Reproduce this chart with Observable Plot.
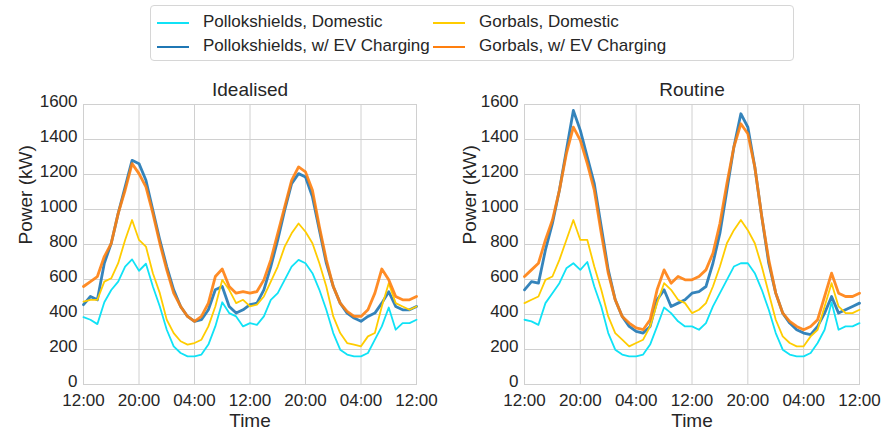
<!DOCTYPE html>
<html><head><meta charset="utf-8">
<script src="https://cdn.jsdelivr.net/npm/d3@7"></script>
<script src="https://cdn.jsdelivr.net/npm/@observablehq/plot@0.6"></script>
<style>
body{margin:0;background:#fff;font-family:"Liberation Sans",Arial,sans-serif;}
#wrap{position:relative;width:888px;height:432px;overflow:hidden;}
#legend{position:absolute;left:150px;top:5px;width:644px;height:56px;border:1px solid #d6d6d6;border-radius:4px;box-sizing:border-box;}
.li{position:absolute;font-size:17px;color:#262626;white-space:nowrap;line-height:20px;}
.sw{position:absolute;left:0;top:10px;width:32px;height:2px;}
.lt{position:absolute;left:46px;top:0;}
.panel{position:absolute;top:70px;}
</style></head><body>
<div id="wrap">
<div id="legend"></div>
<div id="left" class="panel" style="left:0"></div>
<div id="right" class="panel" style="left:444px"></div>
</div>
<script>
const hours = d3.range(0, 49);
const xTicks = [0, 8, 16, 24, 32, 40, 48];
const xTickLabels = ["12:00", "20:00", "04:00", "12:00", "20:00", "04:00", "12:00"];
const yTicks = [0, 200, 400, 600, 800, 1000, 1200, 1400, 1600];
const seriesNames = ["Pollokshields, Domestic", "Pollokshields, w/ EV Charging", "Gorbals, Domestic", "Gorbals, w/ EV Charging"];
const seriesColors = ["#10e2f6", "#1f77b4", "#ffcc00", "#ff7f0e"];
const panelTitles = ["Idealised", "Routine"];

// Idealised
const idealPolDom = [385,370,345,470,540,588,674,715,650,690,560,446,313,218,180,161,161,171,228,332,470,408,389,332,351,341,389,484,522,598,674,712,693,636,541,427,294,199,171,161,161,180,256,332,440,313,351,351,370];
const idealPolEV  = [456,503,484,693,807,978,1129,1281,1262,1167,996,826,674,541,446,389,361,370,427,541,560,446,408,427,456,465,541,674,826,996,1148,1205,1186,1072,882,693,560,465,408,380,361,389,408,465,530,446,427,427,446];
const idealGorDom = [474,484,484,588,607,693,826,940,826,788,636,522,370,294,247,228,237,256,332,446,598,541,465,484,446,456,503,588,674,788,864,920,873,807,693,560,389,294,237,228,218,275,294,446,579,465,446,427,446];
const idealGorEV  = [560,588,617,731,807,978,1110,1262,1205,1129,978,807,655,522,446,389,361,389,465,617,660,560,522,531,522,531,598,712,864,1015,1167,1243,1215,1110,901,712,560,465,418,389,389,427,522,660,598,503,484,484,503];
// Routine
const routPolDom = [370,361,341,465,522,579,664,693,655,700,560,446,294,199,171,161,161,171,228,332,440,408,361,332,332,313,351,446,522,598,674,693,693,636,541,427,294,199,171,161,161,180,237,313,470,313,332,332,351];
const routPolEV  = [541,588,579,769,920,1110,1338,1566,1452,1300,1148,901,655,484,389,332,304,294,332,484,541,446,465,484,522,531,560,693,864,1110,1357,1547,1471,1243,958,693,522,408,351,313,294,285,332,408,503,408,427,446,465];
const routGorDom = [465,484,503,598,617,712,826,940,826,826,674,541,389,294,256,218,237,256,332,465,579,541,484,465,408,427,465,560,674,807,882,940,882,807,674,522,370,275,237,218,218,275,313,446,579,446,408,408,427];
const routGorEV  = [617,655,693,826,940,1110,1319,1471,1395,1262,1110,864,636,484,389,351,323,313,370,541,655,579,617,598,598,617,655,750,920,1148,1357,1490,1433,1243,958,712,522,408,361,332,313,332,370,503,636,522,503,503,522];

function toRows(arrs) {
  const rows = [];
  arrs.forEach((arr, i) => arr.forEach((v, j) => rows.push({hour: hours[j], value: v, series: seriesNames[i]})));
  return rows;
}
const panels = [
  toRows([idealPolDom, idealPolEV, idealGorDom, idealGorEV]),
  toRows([routPolDom, routPolEV, routGorDom, routGorEV])
];

// legend
const legend = document.getElementById("legend");
const legPos = [[6,6],[6,30],[282,6],[282,30]];
seriesNames.forEach((n, i) => {
  const d = document.createElement("div");
  d.className = "li";
  d.style.left = legPos[i][0] + "px";
  d.style.top = legPos[i][1] + "px";
  d.innerHTML = `<div class="sw" style="background:${seriesColors[i]}"></div><div class="lt">${n}</div>`;
  legend.appendChild(d);
});

function makePanel(rows, title, ml, mr) {
  const marks = [
    Plot.gridX(xTicks, {stroke: "#d0d0d0", strokeOpacity: 1}),
    Plot.gridY(yTicks, {stroke: "#d0d0d0", strokeOpacity: 1}),
    Plot.frame({stroke: "#d0d0d0"}),
    Plot.axisX({ticks: xTicks, tickSize: 0, tickPadding: 9, tickFormat: (d) => xTickLabels[xTicks.indexOf(d)], fontSize: 17, label: null}),
    Plot.axisY({ticks: yTicks, tickSize: 0, tickPadding: 6, dy: -3, tickFormat: (d) => String(d), fontSize: 17, label: null}),
  ];
  seriesNames.forEach((n, i) => {
    const ev = i === 1 || i === 3;
    marks.push(Plot.line(rows.filter(r => r.series === n), {x: "hour", y: "value", stroke: seriesColors[i], strokeWidth: ev ? 2.8 : 1.8, strokeOpacity: ev ? 0.9 : 1, curve: "linear"}));
  });
  marks.push(Plot.text([title], {frameAnchor: "top", dy: -22, fontSize: 19, fill: "#262626", text: d => d}));
  marks.push(Plot.text(["Time"], {frameAnchor: "bottom", dy: 42, fontSize: 19, fill: "#262626", text: d => d}));
  marks.push(Plot.text(["Power (kW)"], {frameAnchor: "left", dx: -(ml - 25), rotate: -90, fontSize: 19, fill: "#262626", text: d => d}));
  return Plot.plot({
    width: 444, height: 362,
    marginLeft: ml, marginRight: mr, marginTop: 34, marginBottom: 48,
    x: {domain: [0, 48]},
    y: {domain: [0, 1600]},
    style: {fontFamily: "'Liberation Sans', Arial, sans-serif", color: "#262626", background: "white"},
    marks
  });
}
document.getElementById("left").appendChild(makePanel(panels[0], panelTitles[0], 83, 28));
document.getElementById("right").appendChild(makePanel(panels[1], panelTitles[1], 80, 29));
</script>
</body></html>
